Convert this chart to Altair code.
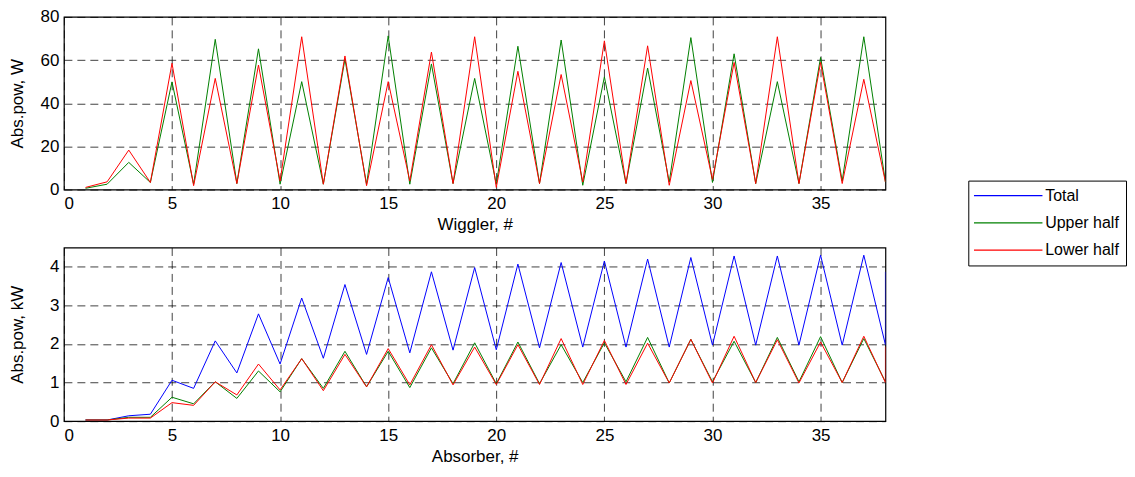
import altair as alt
import pandas as pd

series_names = ["Total", "Upper half", "Lower half"]
series_colors = ["#0000FF", "#008000", "#FF0000"]

element_no = list(range(1, 39))

# Wiggler absorbed power, W
wig_upper = [0.6, 2.5, 12.6, 3.3, 49.9, 2.5, 69.6, 2.8, 65.2, 2.5,
             50.0, 2.5, 60.4, 2.5, 71.2, 2.5, 58.2, 2.8, 51.5, 2.5,
             66.4, 2.8, 69.3, 2.0, 52.2, 2.8, 56.3, 3.5, 70.4, 3.3,
             62.9, 2.8, 50.0, 2.8, 61.2, 4.0, 70.8, 3.5]
wig_lower = [1.0, 3.6, 18.3, 3.3, 58.5, 1.8, 51.5, 2.8, 57.7, 4.0,
             70.8, 2.5, 61.9, 1.8, 50.0, 4.0, 63.7, 2.8, 70.8, 1.0,
             54.8, 2.8, 53.3, 3.5, 68.9, 2.8, 66.6, 2.0, 50.5, 4.7,
             58.9, 2.8, 70.8, 2.8, 58.9, 2.8, 51.1, 3.5]

# Absorber absorbed power, kW
abs_total = [0.03, 0.03, 0.14, 0.18, 1.06, 0.85, 2.08, 1.25, 2.78, 1.48,
             3.19, 1.63, 3.54, 1.73, 3.72, 1.77, 3.87, 1.84, 3.98, 1.85,
             4.07, 1.90, 4.11, 1.92, 4.15, 1.92, 4.20, 1.92, 4.24, 1.97,
             4.28, 1.97, 4.28, 1.97, 4.30, 1.97, 4.30, 1.98]
abs_upper = [0.03, 0.03, 0.10, 0.10, 0.62, 0.45, 1.02, 0.59, 1.30, 0.76,
             1.62, 0.85, 1.81, 0.89, 1.81, 0.87, 1.90, 0.97, 2.03, 0.97,
             2.05, 0.97, 1.98, 1.00, 2.03, 1.02, 2.17, 0.99, 2.12, 1.02,
             2.07, 1.00, 2.17, 1.02, 2.19, 1.00, 2.14, 1.02]
abs_lower = [0.03, 0.03, 0.08, 0.08, 0.48, 0.41, 1.02, 0.68, 1.48, 0.81,
             1.62, 0.79, 1.73, 0.89, 1.88, 0.94, 1.98, 0.94, 1.92, 0.95,
             1.98, 0.95, 2.14, 0.95, 2.09, 0.95, 2.02, 0.99, 2.12, 0.99,
             2.20, 1.00, 2.11, 0.99, 2.05, 1.00, 2.20, 1.00]
# values of the next (clipped) segment seen at the right edge, x = 38
abs_total_edge = [3.87]
abs_lower_edge = [1.93]

x_ticks = [0, 5, 10, 15, 20, 25, 30, 35]
wig_ticks = [0, 20, 40, 60, 80]
abs_ticks = [0, 1, 2, 3, 4]


def frame(xs, ys, name):
    return pd.DataFrame({"x": xs, "value": ys, "series": name,
                         "idx": list(range(len(xs)))})


wig_df = pd.concat([
    frame(element_no, wig_upper, "Upper half"),
    frame(element_no, wig_lower, "Lower half"),
], ignore_index=True)

abs_df = pd.concat([
    frame(element_no + [38] * len(abs_total_edge), abs_total + abs_total_edge, "Total"),
    frame(element_no, abs_upper, "Upper half"),
    frame(element_no + [38] * len(abs_lower_edge), abs_lower + abs_lower_edge, "Lower half"),
], ignore_index=True)

color = alt.Color(
    "series:N",
    scale=alt.Scale(domain=series_names, range=series_colors),
    legend=alt.Legend(
        title=None, orient="none", legendX=906, legendY=164,
        symbolType="M-4.9,0H4.9", symbolSize=196, symbolStrokeWidth=1.3,
        symbolOffset=25, labelOffset=29, padding=7, rowPadding=11.3,
        strokeColor="black", fillColor="white",
        labelFont="Liberation Sans", labelFontSize=16, labelColor="black",
    ),
)

PLOT_W = 823


def panel(df, ydom, yticks, ytitle, xtitle, h):
    return alt.Chart(df).mark_line(strokeWidth=1, clip=True).encode(
        x=alt.X("x:Q", scale=alt.Scale(domain=[0, 38], nice=False, zero=False),
                axis=alt.Axis(values=x_ticks, title=xtitle, labelPadding=6,
                              titlePadding=5, format="d")),
        y=alt.Y("value:Q", scale=alt.Scale(domain=ydom, nice=False),
                axis=alt.Axis(values=yticks, title=ytitle, labelPadding=5,
                              titleX=-46, titleY=h / 2, titleAngle=270,
                              titleBaseline="middle", format="d")),
        color=color,
        order=alt.Order("idx:Q"),
    ).properties(width=PLOT_W, height=h)


top = panel(wig_df, [0, 80], wig_ticks, "Abs.pow, W", "Wiggler, #", 173)
bottom = panel(abs_df, [0, 4.5], abs_ticks, "Abs.pow, kW", "Absorber, #", 174)

chart = alt.vconcat(top, bottom, spacing=13).properties(
    padding={"left": 0, "top": -1.5, "right": 0, "bottom": 0},
    background="white",
).configure_axis(
    labelFont="Liberation Sans", titleFont="Liberation Sans",
    labelFontSize=17, titleFontSize=17, titleFontWeight="normal",
    labelColor="black", titleColor="black",
    grid=True, gridColor="black", gridDash=[8, 5], gridOpacity=0.75, gridWidth=1,
    domain=False, ticks=False, tickSize=0,
).configure_view(
    stroke="black", strokeWidth=1.2,
)

chart.save("out.html", embed_options={"renderer": "svg", "actions": False})
